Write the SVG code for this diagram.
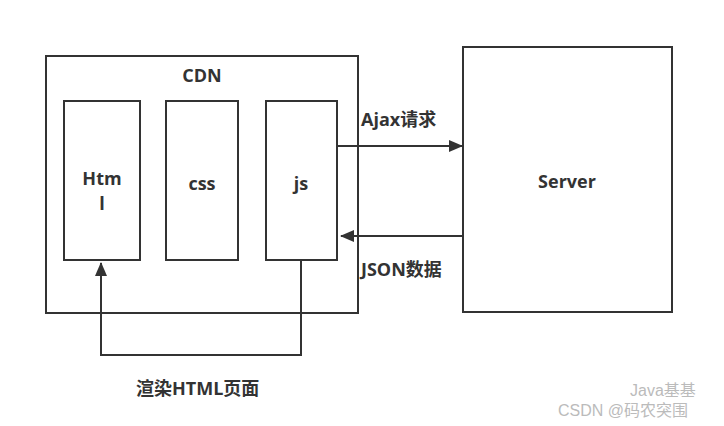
<svg xmlns="http://www.w3.org/2000/svg" width="724" height="426" viewBox="0 0 724 426">
<style>
.b{fill:#fff;stroke:#333;stroke-width:2}
.l{fill:none;stroke:#333;stroke-width:2}
text{font-family:"Open Sans","Noto Sans CJK SC",sans-serif;font-weight:bold;fill:#333;font-size:18px}
.w{font-family:"Liberation Sans","Noto Sans CJK SC",sans-serif;font-weight:normal;fill:#bbb;font-size:16px}
</style>
<defs><marker id="a2" markerWidth="14" markerHeight="12" refX="13" refY="6" orient="auto" markerUnits="userSpaceOnUse"><path d="M0,0L14,6L0,12z" fill="#333"/></marker></defs>
<rect width="724" height="426" fill="#fff"/>
<g id="cdn"><rect class="b" x="46" y="56" width="312" height="257"/><text x="202" y="82" text-anchor="middle" font-size="20">CDN</text></g>
<g id="html"><rect class="b" x="64" y="101" width="76" height="159"/><text x="102" y="185" text-anchor="middle">Htm</text><text x="102" y="210" text-anchor="middle">l</text></g>
<g id="css"><rect class="b" x="166" y="101" width="72" height="159"/><text x="202" y="190" text-anchor="middle">css</text></g>
<g id="js"><rect class="b" x="266" y="101" width="71" height="159"/><text x="301" y="190" text-anchor="middle">js</text></g>
<g id="server"><rect class="b" x="463" y="47" width="209" height="265"/><text x="567" y="188" text-anchor="middle">Server</text></g>
<g id="connectors">
<line class="l" x1="337" y1="146" x2="462" y2="146" marker-end="url(#a2)"/>
<line class="l" x1="462" y1="236" x2="341" y2="236" marker-end="url(#a2)"/>
<polyline class="l" points="301,260 301,355 101,355 101,263" marker-end="url(#a2)"/>
<text x="361" y="126">Ajax请求</text>
<text x="361" y="276">JSON数据</text>
<text x="136" y="395">渲染HTML页面</text>
</g>
<text class="w" x="630" y="396">Java基基</text>
<text class="w" x="558" y="416">CSDN @码农突围</text>
</svg>
